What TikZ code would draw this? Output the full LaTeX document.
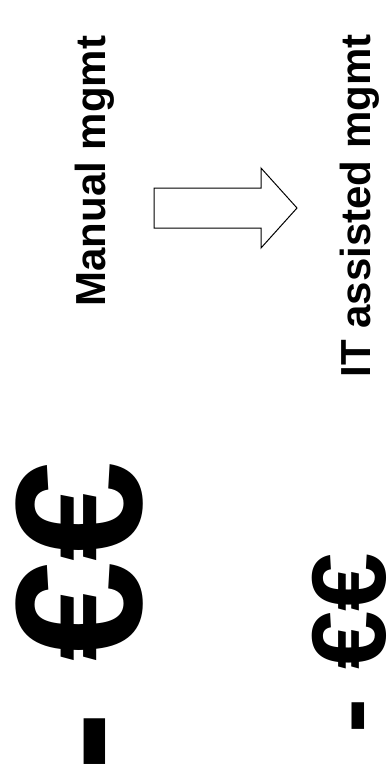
\documentclass[tikz,border=0pt]{standalone}
\usepackage{fontspec}
\setmainfont{Liberation Sans}
\begin{document}
\begin{tikzpicture}[x=1pt,y=-1pt,
  lbl/.style={rotate=90,inner sep=0pt,anchor=base,font=\bfseries\fontsize{42}{50}\selectfont},
  cost/.style={rotate=90,inner sep=0pt,anchor=base,font=\bfseries}]
\useasboundingbox (0,0) rectangle (389,777);
\node[lbl] (manual) at (105,171) {Manual mgmt};
\node[lbl] (it) at (370,206) {IT assisted mgmt};
\draw[line width=1pt,line join=miter] (154,188) -- (261,188) -- (261,168) -- (297,208) -- (261,248) -- (261,228) -- (154,228) -- cycle;
\node[cost,font=\bfseries\fontsize{180}{200}\selectfont] (big) at (141,616) {- €€};
\node[cost,font=\bfseries\fontsize{105}{120}\selectfont] (small) at (385,643) {- €€};
\end{tikzpicture}
\end{document}
